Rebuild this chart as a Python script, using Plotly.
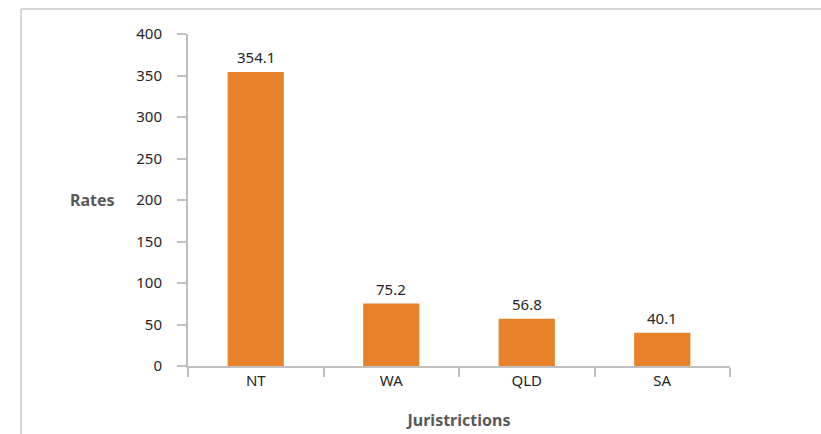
import plotly.graph_objects as go

# Rates by jurisdiction
jurisdictions = ["NT", "WA", "QLD", "SA"]
rates = [354.1, 75.2, 56.8, 40.1]
y_ticks = [0, 50, 100, 150, 200, 250, 300, 350, 400]

BAR = "#E8822A"
AXIS = "#BFBFBF"
TEXT = "#262626"
TITLE = "#595959"
FONT = "Noto Sans, sans-serif"

W, H = 821, 434
L, R, T, B = 188, 91, 34, 68
pw, ph = W - L - R, H - T - B

fig = go.Figure(
    go.Bar(
        x=jurisdictions,
        y=rates,
        marker=dict(color=BAR, line=dict(width=0)),
        hoverinfo="skip",
    )
)

# value labels above each bar
for name, v in zip(jurisdictions, rates):
    fig.add_annotation(x=name, y=v, text=f"{v:.1f}", showarrow=False,
                       yanchor="bottom", yshift=3,
                       font=dict(size=15, color=TEXT, family=FONT))

# chart frame (left and top edges)
fx = (21 - L) / pw
fy = 1 + (T - 9) / ph
fig.add_shape(type="line", xref="paper", yref="paper",
              x0=fx, x1=fx, y0=fy, y1=-0.5, line=dict(color="#C8C8C8", width=1.5))
fig.add_shape(type="line", xref="paper", yref="paper",
              x0=fx, x1=1.5, y0=fy, y1=fy, line=dict(color="#C8C8C8", width=1.5))

fig.add_annotation(text="<b>Rates</b>", xref="paper", yref="y", x=(92 - L) / pw, y=200,
                   xanchor="center", showarrow=False,
                   font=dict(size=16, color=TITLE, family=FONT))

fig.update_layout(
    width=W, height=H,
    margin=dict(l=L, r=R, t=T, b=B, autoexpand=False),
    paper_bgcolor="white", plot_bgcolor="white",
    showlegend=False,
    bargap=0.585,
    font=dict(family=FONT, color=TEXT),
    xaxis=dict(
        type="category", automargin=False,
        showline=True, linecolor=AXIS, linewidth=2,
        ticks="outside", tickson="boundaries", ticklen=9, tickwidth=2, tickcolor=AXIS,
        tickfont=dict(size=15, color=TEXT),
        showgrid=False,
        title=dict(text="<b>Juristrictions</b>", font=dict(size=16, color=TITLE), standoff=26),
    ),
    yaxis=dict(
        range=[0, 400], tickvals=y_ticks, automargin=False,
        showline=True, linecolor=AXIS, linewidth=2,
        ticks="outside", ticklen=9, tickwidth=2, tickcolor=AXIS,
        tickfont=dict(size=15, color=TEXT),
        ticklabelstandoff=12,
        showgrid=False, zeroline=False,
    ),
)

fig.write_html("out.html")
